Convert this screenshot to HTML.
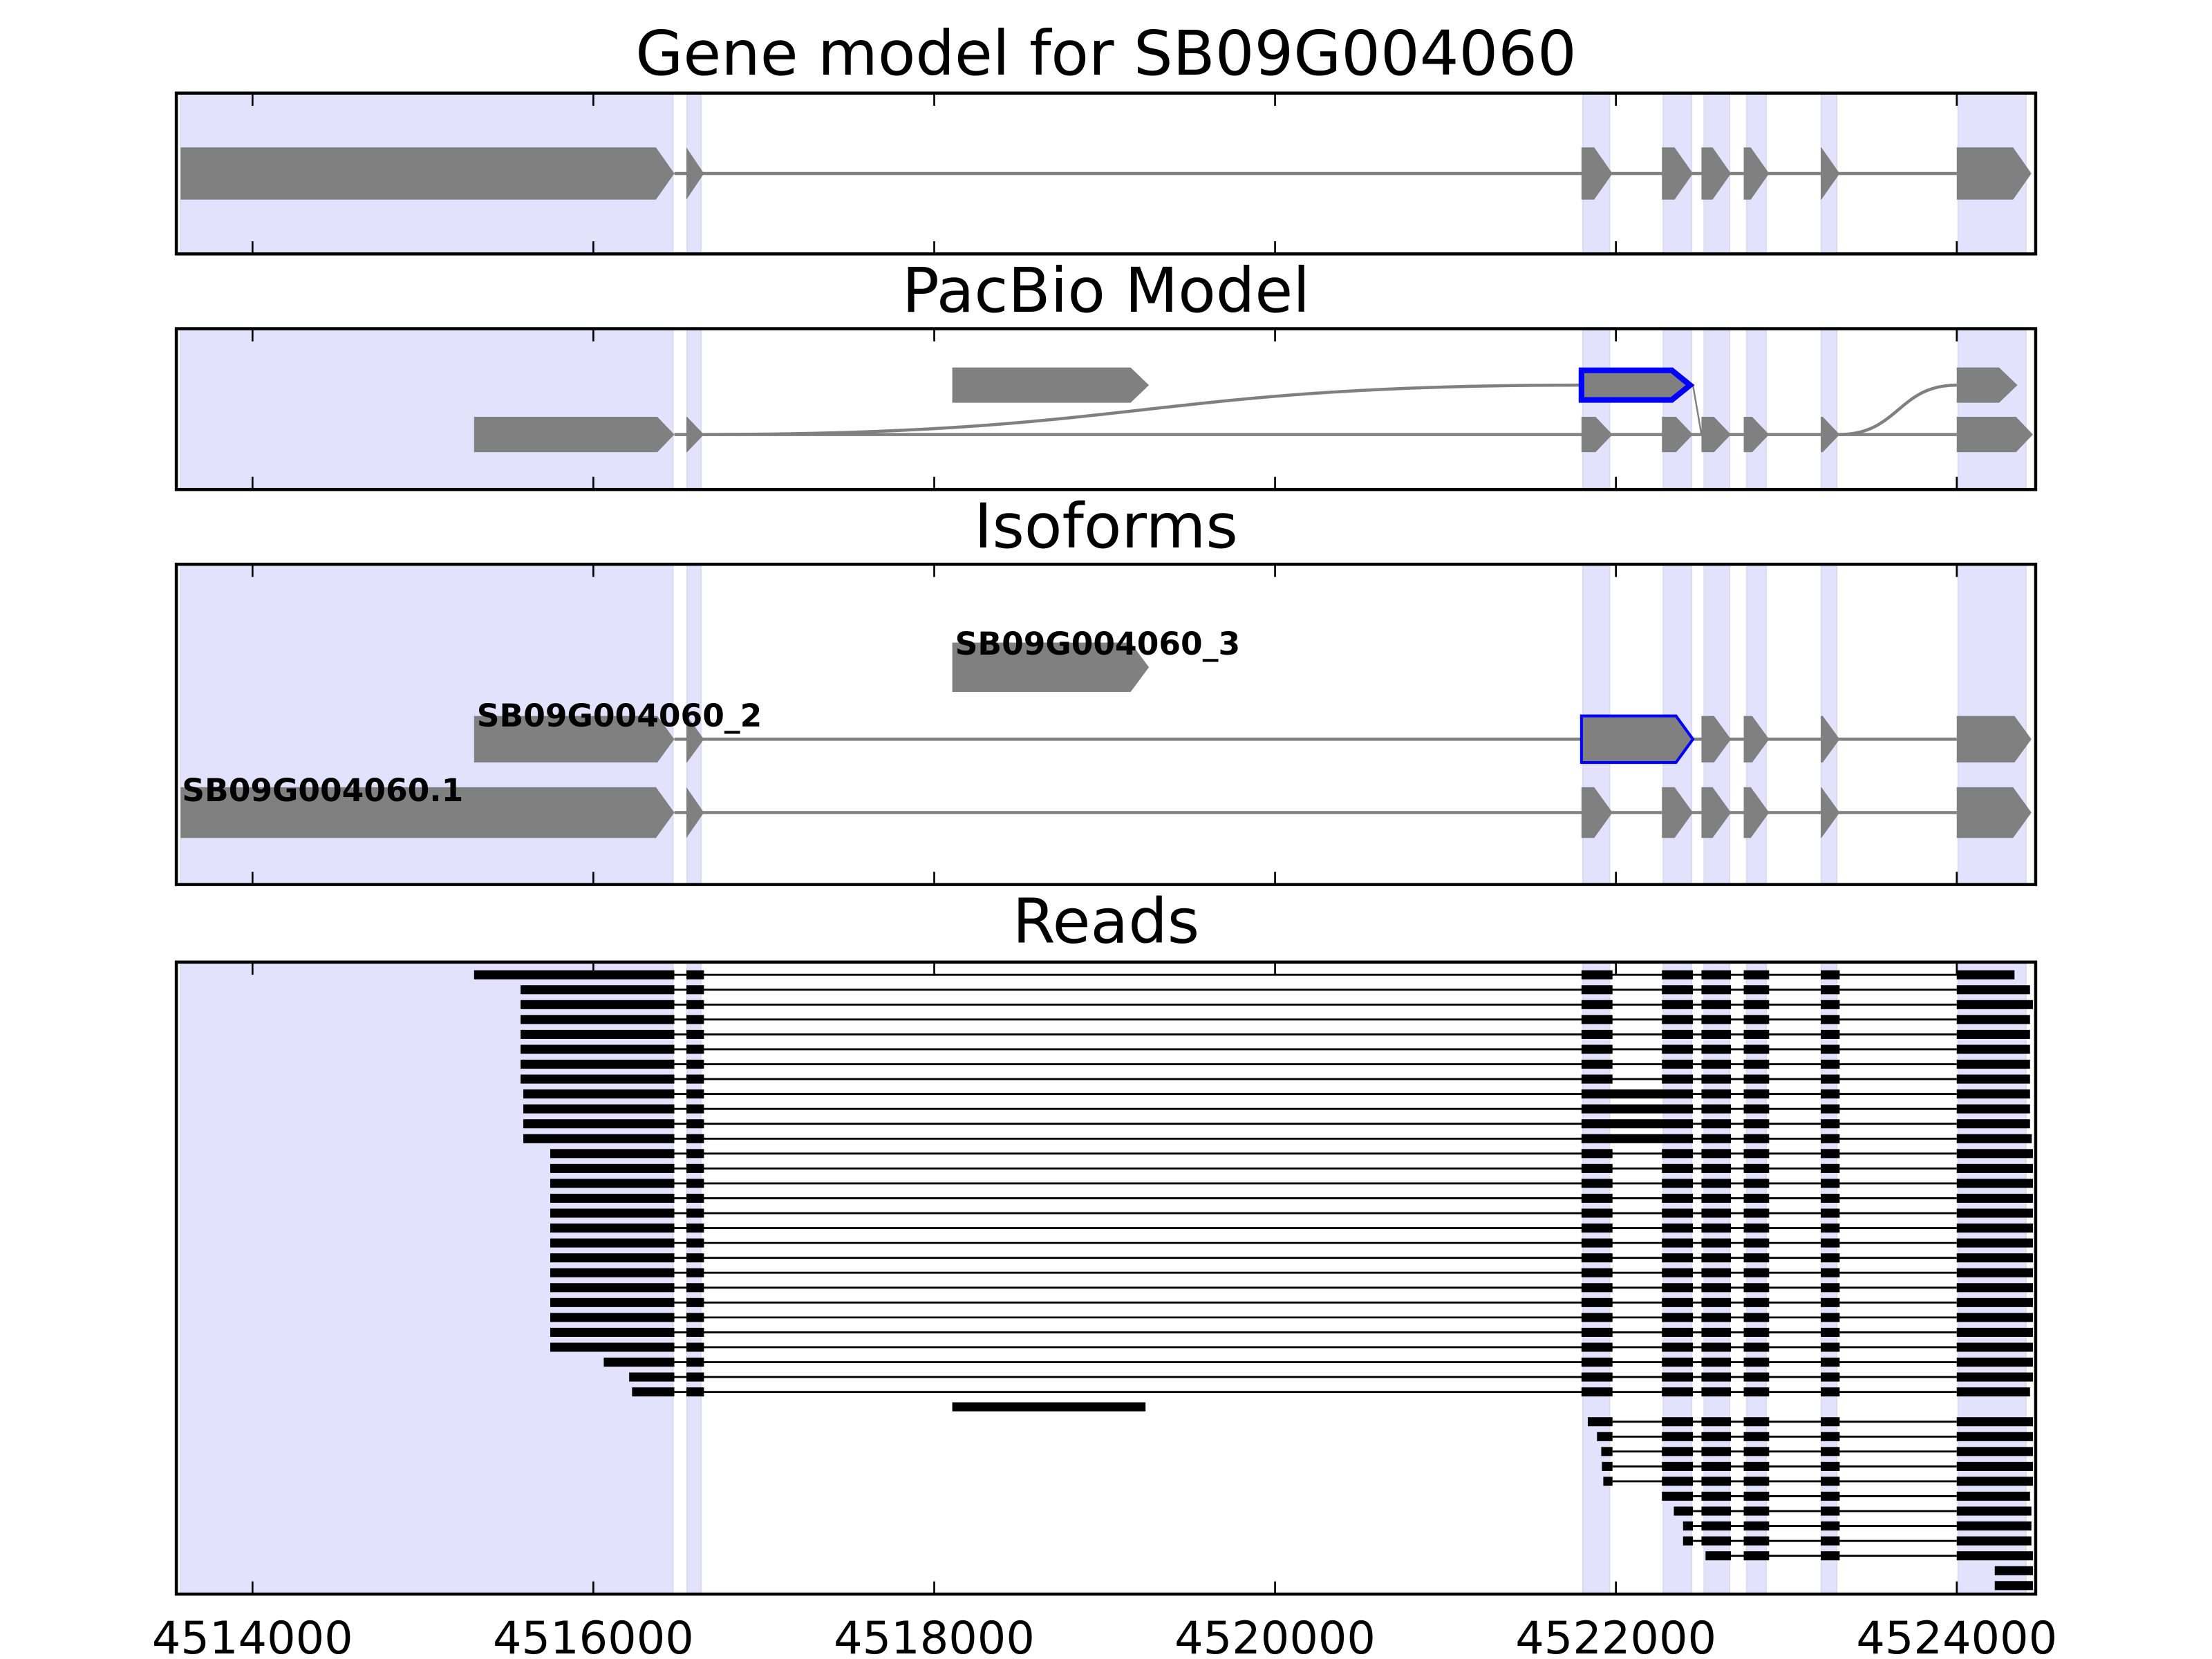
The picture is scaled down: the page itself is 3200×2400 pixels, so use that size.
<!DOCTYPE html>
<html><head><meta charset="utf-8"><style>
html,body{margin:0;padding:0;background:#fff;}
svg{display:block;font-family:"DejaVu Sans","Liberation Sans",sans-serif;}
</style></head><body>
<svg id="fig" width="3200" height="2400" viewBox="0 0 1568 1176" xmlns="http://www.w3.org/2000/svg">
<defs>
<clipPath id="c0"><rect x="125" y="66" width="1318" height="114"/></clipPath>
<clipPath id="c1"><rect x="125" y="233" width="1318" height="114"/></clipPath>
<clipPath id="c2"><rect x="125" y="400" width="1318" height="227"/></clipPath>
<clipPath id="c3"><rect x="125" y="682" width="1318" height="448"/></clipPath>
</defs>
</svg>
<script>
// ---- data (genomic coordinates, bp) ----
const xDomain = [4513553, 4524463];
const tickValues = [4514000, 4516000, 4518000, 4520000, 4522000, 4524000];
const tickLabels = ["4514000","4516000","4518000","4520000","4522000","4524000"];
const bandStarts = [4513578, 4516550, 4521806, 4522278, 4522518, 4522767, 4523205, 4524008];
const bandEnds   = [4516467, 4516632, 4521963, 4522444, 4522667, 4522882, 4523296, 4524406];
const geneExonStarts = [4513578, 4516546, 4521798, 4522270, 4522502, 4522750, 4523202, 4524000];
const geneExonEnds   = [4516475, 4516649, 4521980, 4522452, 4522675, 4522899, 4523313, 4524438];
const iso2Starts = [4515300, 4516546, 4521798, 4522502, 4522750, 4523202, 4524000];
const iso2Ends   = [4516475, 4516649, 4522452, 4522675, 4522899, 4523313, 4524438];
const iso2Blue   = [false, false, true, false, false, false, false];
const iso3Starts = [4518106];
const iso3Ends   = [4519260];
const pbUpperStarts = [4518106, 4521798, 4524000];
const pbUpperEnds   = [4519260, 4522452, 4524356];
const pbUpperBlue   = [false, true, false];
const pbLowerStarts = [4515300, 4516546, 4521798, 4522270, 4522502, 4522750, 4523202, 4524000];
const pbLowerEnds   = [4516475, 4516649, 4521980, 4522452, 4522675, 4522899, 4523313, 4524447];
const readExonStarts = [4513553, 4516546, 4521798, 4522270, 4522502, 4522750, 4523202, 4524000];
const readExonEnds   = [4516475, 4516649, 4521980, 4522452, 4522675, 4522899, 4523313, 4524447];
const readStarts = [4515300,4515573,4515573,4515573,4515573,4515573,4515573,4515573,4515589,4515589,4515589,4515589,
 4515747,4515747,4515747,4515747,4515747,4515747,4515747,4515747,4515747,4515747,4515747,4515747,4515747,4515747,
 4516061,4516210,4516227,4518106,4521835,4521889,4521914,4521918,4521926,4522270,4522340,4522394,4522394,4522526,4524223,4524223];
const readEnds = [4524339,4524430,4524447,4524430,4524430,4524430,4524430,4524430,4524430,4524430,4524430,4524440,
 4524447,4524447,4524447,4524447,4524447,4524447,4524447,4524447,4524447,4524447,4524447,4524447,4524447,4524447,
 4524447,4524447,4524430,4519240,4524447,4524447,4524447,4524447,4524447,4524430,4524438,4524438,4524438,4524447,4524447,4524447];
const readRetained = [0,0,0,0,0,0,0,0,1,1,1,1,0,0,0,0,0,0,0,0,0,0,0,0,0,0,0,0,0,0,0,0,0,0,0,0,0,0,0,0,0,0];
const readSingle   = [0,0,0,0,0,0,0,0,0,0,0,0,0,0,0,0,0,0,0,0,0,0,0,0,0,0,0,0,0,1,0,0,0,0,0,0,0,0,0,0,0,0];

// ---- layout ----
const X0 = 125, X1 = 1443;
const panels = [
  {y0:66, y1:180, title:"Gene model for SB09G004060", ty:53, name:"gene-model-panel"},
  {y0:233, y1:347, title:"PacBio Model", ty:221, name:"pacbio-panel"},
  {y0:400, y1:627, title:"Isoforms", ty:388, name:"isoforms-panel"},
  {y0:682, y1:1130, title:"Reads", ty:668, name:"reads-panel"}
];
const sx = bp => X0 + (bp - xDomain[0]) / (xDomain[1] - xDomain[0]) * (X1 - X0);
const NS = "http://www.w3.org/2000/svg";
const svg = document.getElementById('fig');
function mk(tag, attrs, parent){ const e = document.createElementNS(NS, tag); for (const k in attrs) e.setAttribute(k, attrs[k]); (parent||svg).appendChild(e); return e; }
function arrowPts(x0, x1, y, h, tip){ const t = Math.min(tip, x1 - x0); return `${x0},${y-h} ${x1-t},${y-h} ${x1},${y} ${x1-t},${y+h} ${x0},${y+h}`; }

panels.forEach((p, i) => {
  const g = mk('g', {});
  
  
  const t = mk('text', {x:784, y:p.ty, 'font-size':43.7, 'text-anchor':'middle', fill:'#000'}, g);
  t.textContent = p.title;
  
  
  const bg = mk('g', {'clip-path':`url(#c${i})`}, g);
  for (let b = 0; b < bandStarts.length; b++) {
    const r = mk('rect', {x:sx(bandStarts[b]), y:p.y0, width:sx(bandEnds[b]) - sx(bandStarts[b]), height:p.y1 - p.y0, fill:'#e2e2fd', stroke:'#dcdcee', 'stroke-width':1}, bg);
    
    
  }
  p.g = g; p.clip = bg;
});

function drawTranscript(parent, starts, ends, blue, y, h, tip, blueW){
  mk('line', {x1:sx(ends[0]), x2:sx(starts[starts.length-1]), y1:y, y2:y, stroke:'#808080', 'stroke-width':2.2}, parent);
  for (let k = 0; k < starts.length; k++) {
    const isB = blue && blue[k];
    const e = mk('polygon', {points:arrowPts(sx(starts[k]), sx(ends[k]), y, h, tip), fill:'#808080', stroke:isB ? '#0000ff' : 'none', 'stroke-width':isB ? blueW : 0}, parent);
    
    
  }
}

// panel 1: gene model
drawTranscript(panels[0].clip, geneExonStarts, geneExonEnds, null, 123, 18.5, 13, 0);

// panel 2: pacbio
{
  const g = panels[1].clip;
  const yl = 308, yu = 273;
  const xa = sx(pbLowerEnds[1]), xb = sx(pbUpperStarts[1]);
  mk('path', {d:`M${xa},${yl} C${(xa+xb)/2},${yl} ${(xa+xb)/2},${yu} ${xb},${yu}`, fill:'none', stroke:'#808080', 'stroke-width':2.2}, g);
  mk('line', {x1:sx(pbUpperEnds[1]), y1:yu, x2:sx(pbLowerStarts[4]), y2:yl, stroke:'#808080', 'stroke-width':1.2}, g);
  const xc = sx(pbLowerEnds[6]), xd = sx(pbUpperStarts[2]);
  mk('path', {d:`M${xc},${yl} C${(xc+xd)/2},${yl} ${(xc+xd)/2},${yu} ${xd},${yu}`, fill:'none', stroke:'#808080', 'stroke-width':2.2}, g);
  drawTranscript(g, pbLowerStarts, pbLowerEnds, null, yl, 12.5, 12, 0);
  for (let k = 0; k < pbUpperStarts.length; k++) {
    const isB = pbUpperBlue[k];
    const e = mk('polygon', {points:arrowPts(sx(pbUpperStarts[k]), sx(pbUpperEnds[k]) - (isB ? 2 : 0), yu, isB ? 10.5 : 12.5, 13), fill:'#808080', stroke:isB ? '#0000ff' : 'none', 'stroke-width':isB ? 4 : 0}, g);
    
    
  }
}

// panel 3: isoforms
{
  const g = panels[2].clip;
  drawTranscript(g, geneExonStarts, geneExonEnds, null, 576, 18, 13, 0);
  drawTranscript(g, iso2Starts, iso2Ends, iso2Blue, 524, 16.5, 12, 2);
  const e = mk('polygon', {points:arrowPts(sx(iso3Starts[0]), sx(iso3Ends[0]), 473, 17.5, 13), fill:'#808080'}, g);
  
  
  const labels = [["SB09G004060_3", 677, 464], ["SB09G004060_2", 338, 515], ["SB09G004060.1", 129, 568]];
  labels.forEach(l => {
    const t = mk('text', {x:l[1], y:l[2], 'font-size':22.3, 'font-weight':'bold', fill:'#000'}, panels[2].g);
    t.textContent = l[0];
    
    
  });
}

// panel 4: reads
{
  const g = panels[3].clip;
  const rowY0 = 691, rowDy = 10.56, rh = 3.2;
  for (let r = 0; r < readStarts.length; r++) {
    const y = rowY0 + r * rowDy;
    const s = readStarts[r], en = readEnds[r];
    let blocks = [];
    if (readSingle[r]) blocks.push([s, en]);
    else {
      for (let k = 0; k < readExonStarts.length; k++) {
        let a = readExonStarts[k], b = readExonEnds[k];
        if (k === readExonStarts.length - 1) b = en;
        if (b <= s) continue;
        a = Math.max(a, s);
        if (k === 0) a = s;
        blocks.push([a, b]);
      }
      if (readRetained[r]) {
        const i3 = blocks.findIndex(bk => bk[1] === readExonEnds[2]);
        if (i3 >= 0 && blocks[i3+1]) { blocks[i3][1] = blocks[i3+1][1]; blocks.splice(i3+1, 1); }
      }
    }
    const rg = mk('g', {}, g);
    
    
    if (blocks.length > 1) mk('line', {x1:sx(blocks[0][1]), x2:sx(blocks[blocks.length-1][0]), y1:y, y2:y, stroke:'#000', 'stroke-width':1.4}, rg);
    blocks.forEach(bk => {
      const rc = mk('rect', {x:sx(bk[0]), y:y - rh, width:Math.max(1, sx(bk[1]) - sx(bk[0])), height:2*rh, fill:'#000'}, rg);
      
      
    });
  }
}

// frames & ticks
panels.forEach((p, i) => {
  tickValues.forEach(v => {
    const x = sx(v);
    mk('line', {x1:x, x2:x, y1:p.y0, y2:p.y0 + 9, stroke:'#000', 'stroke-width':1.3}, p.g);
    mk('line', {x1:x, x2:x, y1:p.y1, y2:p.y1 - 9, stroke:'#000', 'stroke-width':1.3}, p.g);
  });
  const f = mk('rect', {x:X0, y:p.y0, width:X1 - X0, height:p.y1 - p.y0, fill:'none', stroke:'#000', 'stroke-width':2.2}, p.g);
  
  
});
tickValues.forEach((v, k) => {
  const t = mk('text', {x:sx(v), y:1172, 'font-size':32, 'text-anchor':'middle', fill:'#000'});
  t.textContent = tickLabels[k];
  
  
});
</script>
</body></html>
